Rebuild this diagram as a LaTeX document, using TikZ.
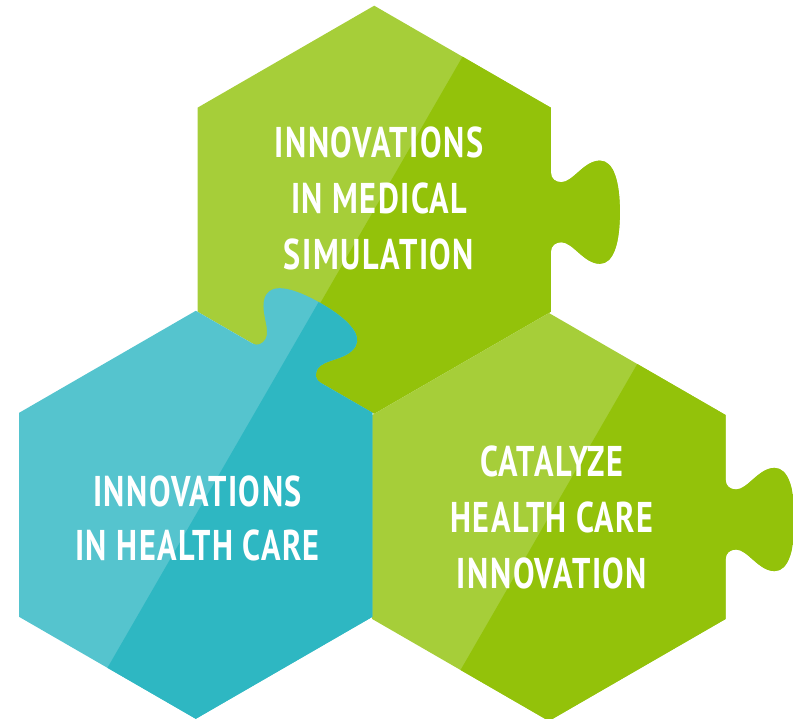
\documentclass[tikz,border=0pt]{standalone}
\usepackage{fontspec}
\newfontfamily\hexfont[FakeStretch=0.75,LetterSpace=3.5]{PT Sans}
\definecolor{lgreen}{HTML}{A6CE39}
\definecolor{dgreen}{HTML}{93C20A}
\definecolor{lcyan}{HTML}{55C4CE}
\definecolor{dcyan}{HTML}{2EB7C2}
\newcommand\hexpath{(176.7,-102) -- (176.7,-42)
 .. controls (176.7,-36) and (181.2,-32.5) .. (187.2,-32.5)
 .. controls (198.7,-32.5) and (209.7,-54.1) .. (225.7,-54.1)
 .. controls (239.7,-54.1) and (245.7,-32.5) .. (245.7,-2.5)
 .. controls (245.7,27.5) and (239.7,49.1) .. (225.7,49.1)
 .. controls (209.7,49.1) and (198.7,27.5) .. (187.2,27.5)
 .. controls (181.2,27.5) and (176.7,31) .. (176.7,37)
 -- (176.7,102) -- (0,204) -- (-176.7,102) -- (-176.7,-102) -- (0,-204) -- cycle}
\newcommand\puzzlehex[5]{%
 \begin{scope}[shift={(#1,#2)}]
  \begin{scope}[rotate=#3]
   \fill[#4] \hexpath;
   \begin{scope}
    \clip \hexpath;
    \begin{scope}[rotate=-#3]
     \fill[#5] (-200,-346.4) -- (200,346.4) -- (800,346.4) -- (800,-346.4) -- cycle;
    \end{scope}
   \end{scope}
  \end{scope}
 \end{scope}}
\tikzset{hextext/.style={text=white, inner sep=0pt, align=center,
  font=\hexfont\bfseries\fontsize{43}{56}\selectfont}}
\begin{document}
\begin{tikzpicture}[x=1pt,y=1pt]
\useasboundingbox (0,0) rectangle (793,-718);
\puzzlehex{374.2}{-209.7}{0}{lgreen}{dgreen}
\puzzlehex{548.9}{-517}{0}{lgreen}{dgreen}
\puzzlehex{195.8}{-514.8}{60}{lcyan}{dcyan}
\node[hextext] (tA) at (379,-198.7) {INNOVATIONS\\IN MEDICAL\\SIMULATION};
\node[hextext, font=\hexfont\bfseries\fontsize{43}{53.5}\selectfont] (tC) at (197.5,-518.3) {INNOVATIONS\\IN HEALTH CARE};
\node[hextext] (tG) at (552,-517) {CATALYZE\\HEALTH CARE\\INNOVATION};
\end{tikzpicture}
\end{document}
